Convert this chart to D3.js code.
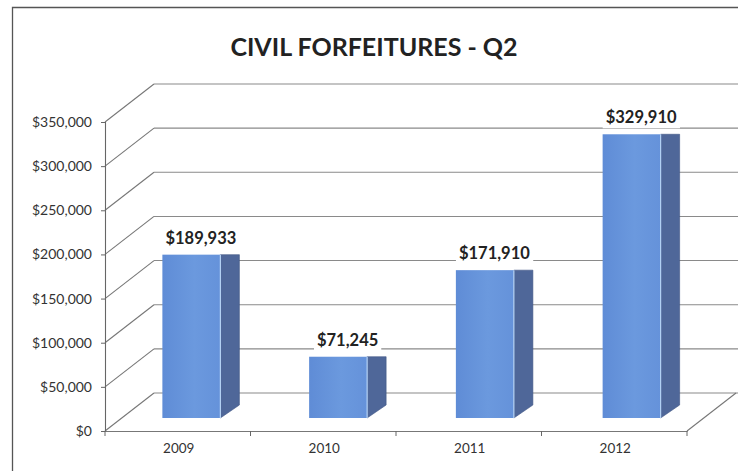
<!DOCTYPE html>
<html>
<head>
<meta charset="utf-8">
<script src="https://cdn.jsdelivr.net/npm/d3@7"></script>
<style>
  html, body { margin: 0; padding: 0; background: #ffffff; }
  svg { display: block; }
  text { font-family: Lato, "Open Sans", sans-serif; }
</style>
</head>
<body>
<svg id="chart" width="738" height="471"></svg>
<script>
// Data
const categories = ["2009", "2010", "2011", "2012"];
const values = [189933, 71245, 171910, 329910];
const valueLabels = ["$189,933", "$71,245", "$171,910", "$329,910"];
const tickValues = [0, 50000, 100000, 150000, 200000, 250000, 300000, 350000];
const titleText = "CIVIL FORFEITURES - Q2";

const svg = d3.select("#chart");
const W = 738, H = 471;

// Frame of the chart area
svg.append("path")
  .attr("d", `M12.5,${H} L12.5,7.5 L${W},7.5`)
  .attr("fill", "none")
  .attr("stroke", "#555")
  .attr("stroke-width", 1.3);

// Pseudo-3D geometry: front plane and back wall offset
const depth = { dx: 49, dy: -38 };
const x = d3.scaleBand().domain(categories).range([105, 687]);
const y = d3.scaleLinear().domain([0, 350000]).range([431, 122]);
// Bars stand part-way into the floor, so they use their own projection
const xBar = d3.scaleBand().domain(categories).range([118, 705]);
const yBar = d3.scaleLinear().domain([0, 350000]).range([418, 117]);
const barW = 58, sideW = 19, sideRise = 13;

const grid = svg.append("g").attr("class", "grid");

// Back wall gridlines
grid.selectAll("line.back")
  .data(tickValues)
  .join("line")
  .attr("class", "back")
  .attr("x1", 105 + depth.dx).attr("x2", W)
  .attr("y1", d => y(d) + depth.dy).attr("y2", d => y(d) + depth.dy)
  .attr("stroke", "#8a8a8a").attr("stroke-width", 1.1);

// Side wall gridlines (diagonals from the value axis to the back wall)
grid.selectAll("line.side")
  .data(tickValues)
  .join("line")
  .attr("class", "side")
  .attr("x1", 105).attr("y1", d => y(d))
  .attr("x2", 105 + depth.dx).attr("y2", d => y(d) + depth.dy)
  .attr("stroke", "#777").attr("stroke-width", 1.1);

// Floor: right edge diagonal
grid.append("line")
  .attr("x1", 687).attr("y1", y(0))
  .attr("x2", 687 + depth.dx).attr("y2", y(0) + depth.dy)
  .attr("stroke", "#777").attr("stroke-width", 1.1);

// Value axis
const yAxis = svg.append("g")
  .attr("transform", "translate(105,0)")
  .call(d3.axisLeft(y).tickValues(tickValues)
    .tickFormat(d => "$" + d3.format(",")(d))
    .tickSize(4).tickPadding(9));
yAxis.select(".domain").attr("stroke", "#666").attr("stroke-width", 1.1);
yAxis.selectAll(".tick line").attr("stroke", "#666");
yAxis.selectAll(".tick text")
  .attr("fill", "#333")
  .style("font-size", "14px")
  .style("font-family", "Lato, 'Open Sans', sans-serif");

// Category axis along the front edge of the floor
const xAxis = svg.append("g")
  .attr("transform", `translate(0,${y(0)})`)
  .call(d3.axisBottom(x).tickSize(0).tickPadding(12));
xAxis.select(".domain").attr("stroke", "#777").attr("stroke-width", 1.2);
xAxis.selectAll(".tick text")
  .attr("fill", "#333")
  .attr("dx", 1)
  .style("font-size", "13.5px")
  .style("font-family", "Lato, 'Open Sans', sans-serif");
// Tick marks at category boundaries
const bounds = categories.map(c => x(c)).concat([x.range()[1]]);
xAxis.selectAll("line.bound")
  .data(bounds)
  .join("line")
  .attr("class", "bound")
  .attr("x1", d => d).attr("x2", d => d)
  .attr("y1", 0).attr("y2", 5)
  .attr("stroke", "#666");

// Bars
const bars = svg.append("g").attr("class", "bars");
const data = categories.map((c, i) => ({ c, v: values[i], label: valueLabels[i] }));

const defs = svg.append("defs");
const grad = defs.append("linearGradient").attr("id", "front").attr("x1", 0).attr("x2", 1);
grad.append("stop").attr("offset", "0%").attr("stop-color", "#5f8cd6");
grad.append("stop").attr("offset", "55%").attr("stop-color", "#6b99de");
grad.append("stop").attr("offset", "100%").attr("stop-color", "#6592da");

const barX = d => xBar(d.c) + xBar.bandwidth() / 2 - barW / 2;

// Side faces
bars.selectAll("path.side")
  .data(data)
  .join("path")
  .attr("class", "side")
  .attr("d", d => {
    const l = barX(d) + barW, t = yBar(d.v), b = yBar(0);
    return `M${l},${t} L${l + sideW},${t} L${l + sideW},${b - sideRise} L${l},${b} Z`;
  })
  .attr("fill", "#4f6799")
  .attr("stroke", "#3f5585")
  .attr("stroke-width", 0.6);

// Front faces
bars.selectAll("rect.front")
  .data(data)
  .join("rect")
  .attr("class", "front")
  .attr("x", d => barX(d))
  .attr("y", d => yBar(d.v))
  .attr("width", barW)
  .attr("height", d => yBar(0) - yBar(d.v))
  .attr("fill", "url(#front)");

// Light edge between front and side faces
bars.selectAll("line.edge")
  .data(data)
  .join("line")
  .attr("class", "edge")
  .attr("x1", d => barX(d) + barW).attr("x2", d => barX(d) + barW)
  .attr("y1", d => yBar(d.v)).attr("y2", yBar(0))
  .attr("stroke", "#b5d2f4").attr("stroke-width", 1.2);

// Value labels with a white backing
const labels = svg.append("g").attr("class", "labels");
const lg = labels.selectAll("g")
  .data(data)
  .join("g")
  .attr("transform", d => `translate(${barX(d) + (barW + sideW) / 2},${yBar(d.v) - 11})`);
lg.append("rect")
  .attr("fill", "#fff");
lg.append("text")
  .attr("text-anchor", "middle")
  .attr("fill", "#222")
  .style("font-size", "16.5px")
  .style("font-weight", "bold")
  .text(d => d.label);
lg.each(function () {
  const g = d3.select(this);
  const bb = g.select("text").node().getBBox();
  g.select("rect")
    .attr("x", bb.x - 3).attr("y", bb.y - 1)
    .attr("width", bb.width + 6).attr("height", bb.height + 2);
});

// Title
svg.append("text")
  .attr("x", 374)
  .attr("y", 56)
  .attr("text-anchor", "middle")
  .attr("fill", "#222")
  .style("font-size", "25px")
  .style("font-weight", "bold")
  .text(titleText);
</script>
</body>
</html>
